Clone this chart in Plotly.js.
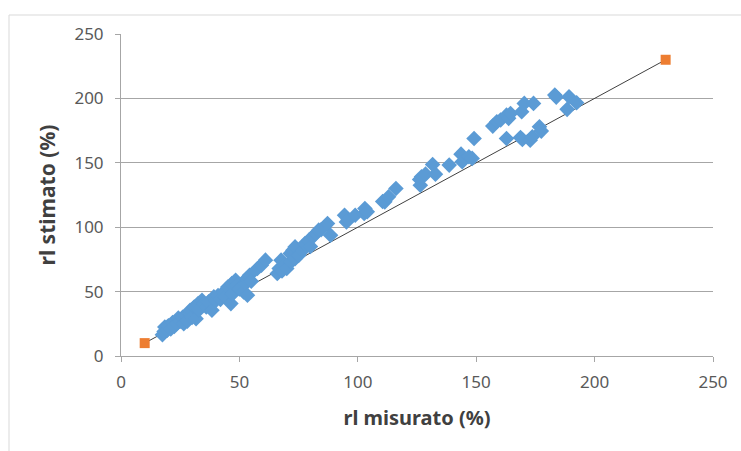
<!DOCTYPE html>
<html>
<head>
<meta charset="utf-8">
<script src="https://cdn.plot.ly/plotly-3.0.1.min.js"></script>
<style>
html,body{margin:0;padding:0;background:#fff;}
#chart{width:741px;height:451px;}
</style>
</head>
<body>
<div id="chart"></div>
<script>
// Measured (rl misurato) vs estimated (rl stimato) values
const measured = [17.5,18.2,18.5,19.5,20,21,21.8,22.5,23.5,24.2,25,26,26.5,27.5,28,29,29.2,30,30.9,31.7,
  32.6,33,34.2,35,36,37,38.4,39.2,40,41,42,43.4,44,45.1,46.4,46.8,47,48.4,49,50,
  51.8,52.6,53.4,53,54.3,55,57.6,59.3,61,66,66.8,67.6,68,69.3,70,71.5,71.8,72.6,73.5,73.5,
  75,76.8,77.7,79.3,80,81,82.2,83.5,84.5,87.2,88.5,94.4,95.2,96,98.9,102.7,103,104,110.5,111.4,
  113,116.1,126.1,126.4,126.9,128.6,131.6,132.8,138.6,143.6,144.1,146.9,148.3,149.1,157,158.7,160.3,162.8,162.8,163.7,
  164.5,168.7,169.2,169.5,170.3,172.8,173.7,174.2,176.7,177.5,183.2,183.8,188.4,189.2,192.4];
const estimated = [16.5,19,22.5,20,23.5,21,26,23,25,29.5,27,30,25,31.5,27,33,35.5,30,38,29,
  40.7,36,43.3,41,38,42,35.5,45.9,43,47,44,49.7,46,53.6,40.7,56.2,48,58.8,55,52,
  49.7,56.2,47.2,60,62.7,58,67.9,70.5,74.4,64,67.9,74.4,66,70.5,68,79.5,73.1,82.1,84.7,75.6,
  78,82.1,87.3,89.9,85,92.5,95.1,97.7,98,102.8,93.8,109.3,104.1,106,109.3,110.6,114.5,112,120,119.7,
  123.6,130.1,137,132.6,139.1,141.2,148.7,141.2,148.2,156.7,150.8,154.7,153.4,168.9,178.5,181.9,183.2,187,168.9,184.5,
  188.3,169.7,189.6,168.1,196.1,167.6,170.2,196.1,178,174.6,202.6,201,191.5,201.3,196.6];
// Reference line endpoints (orange squares)
const refX = [10, 230];
const refY = [10, 230];
const xTicks = [0, 50, 100, 150, 200, 250];
const yTicks = [0, 50, 100, 150, 200, 250];

const font = "Noto Sans, sans-serif";

const traces = [
  {
    x: refX, y: refY, type: 'scatter', mode: 'lines+markers',
    line: {color: '#404040', width: 1},
    marker: {symbol: 'square', color: '#ED7D31', size: 10},
    hoverinfo: 'skip', showlegend: false
  },
  {
    x: measured, y: estimated, type: 'scatter', mode: 'markers',
    marker: {symbol: 'diamond', color: '#5B9BD5', size: 12},
    showlegend: false
  }
];

const layout = {
  width: 741, height: 451,
  margin: {l: 121, r: 28, t: 34, b: 95},
  paper_bgcolor: '#fff', plot_bgcolor: '#fff',
  font: {family: font, size: 17, color: '#595959'},
  xaxis: {
    range: [0, 250], tickvals: xTicks, ticktext: xTicks.map(String),
    showgrid: false, zeroline: false, showline: true, linecolor: '#a6a6a6', linewidth: 1,
    ticks: 'outside', ticklen: 5, tickcolor: '#a6a6a6', ticklabelstandoff: 6,
    tickfont: {family: font, size: 17, color: '#595959'},
    title: {text: '<b>rl misurato (%)</b>', font: {family: font, size: 20, color: '#404040'}, standoff: 18},
    fixedrange: true
  },
  yaxis: {
    range: [0, 250], tickvals: yTicks, ticktext: yTicks.map(String),
    showgrid: true, gridcolor: '#a6a6a6', gridwidth: 1,
    zeroline: false, showline: true, linecolor: '#a6a6a6', linewidth: 1,
    ticks: 'outside', ticklen: 5, tickcolor: '#a6a6a6', ticklabelstandoff: 8,
    tickfont: {family: font, size: 17, color: '#595959'},
    title: {text: '<b>rl stimato (%)</b>', font: {family: font, size: 21, color: '#404040'}, standoff: 13},
    fixedrange: true
  },
  shapes: [{
    type: 'rect', xref: 'paper', yref: 'paper',
    x0: (9 - 121) / 592, x1: (760 - 121) / 592,
    y0: (356 - 470) / 322, y1: (356 - 15) / 322,
    line: {color: '#d9d9d9', width: 1}, fillcolor: 'rgba(0,0,0,0)', layer: 'below'
  }]
};

Plotly.newPlot('chart', traces, layout, {staticPlot: true, displayModeBar: false});
</script>
</body>
</html>
